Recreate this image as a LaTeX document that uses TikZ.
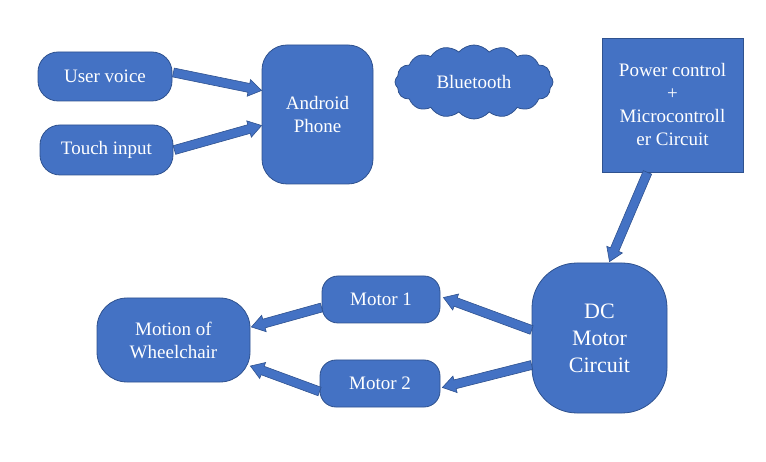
\documentclass[tikz,border=0pt]{standalone}
\usepackage{fontspec}
\setmainfont{Liberation Serif}
\usetikzlibrary{calc,shapes.symbols}

\definecolor{boxblue}{HTML}{4472C4}
\definecolor{boxedge}{HTML}{2F528F}

\tikzset{
    box/.style={fill=boxblue, draw=boxedge, line width=0.8pt, text=white,
        align=center, inner sep=0pt, font=\fontsize{19}{23}\selectfont},
    arrowbody/.style={fill=boxblue, draw=boxedge, line width=0.6pt}
}

% block arrow from #1 to #2
\newcommand{\blockarrow}[2]{%
  \path #1 coordinate (ba-s) #2 coordinate (ba-e);
  \draw[arrowbody] let \p1=($(ba-e)-(ba-s)$), \n1={atan2(\y1,\x1)},
        \n2={veclen(\x1,\y1)} in
    [shift={(ba-s)}, rotate=\n1] (0,-4.5) -- ({\n2-13},-4.5) -- ({\n2-13},-8.5)
        -- (\n2,0) -- ({\n2-13},8.5) -- ({\n2-13},4.5) -- (0,4.5) -- cycle;}

\begin{document}
\begin{tikzpicture}[x=1pt, y=-1pt]
\useasboundingbox (0,0) rectangle (766,462);

\node[box, rounded corners=20pt, minimum width=134pt, minimum height=49pt]
    (voice) at (105,76.5) {User voice};
\node[box, rounded corners=20pt, minimum width=133pt, minimum height=50pt]
    (touch) at (106.5,150) {Touch input};
\node[box, rounded corners=25pt, minimum width=111pt, minimum height=139pt]
    (phone) at (317.5,114.5) {Android\\Phone};
\node[box, cloud, cloud puffs=16, cloud puff arc=100, aspect=2.6,
    minimum width=158pt, minimum height=74pt] (bt) at (474,82) {Bluetooth};
\node[box, minimum width=141pt, minimum height=134pt]
    (power) at (672.5,105) {Power control\\+\\Microcontroll\\er Circuit};
\node[box, rounded corners=45pt, minimum width=135pt, minimum height=150pt,
    font=\fontsize{22}{27}\selectfont] (dc) at (599.5,338) {DC\\Motor\\Circuit};
\node[box, rounded corners=16pt, minimum width=118pt, minimum height=47pt]
    (motor1) at (381,299.5) {Motor 1};
\node[box, rounded corners=16pt, minimum width=120pt, minimum height=47pt]
    (motor2) at (380,383.5) {Motor 2};
\node[box, rounded corners=30pt, minimum width=153pt, minimum height=84pt]
    (motion) at (173.5,340) {Motion of\\Wheelchair};

\blockarrow{($(voice.east)+(1,-4)$)}{($(phone.west)+(0,-24)$)}
\blockarrow{($(touch.east)+(1,0)$)}{($(phone.west)+(0,11)$)}
\blockarrow{($(power.south)+(-25,0)$)}{($(dc.north)+(10,-1)$)}
\blockarrow{($(dc.west)+(0,-8)$)}{($(motor1.east)+(3,-2)$)}
\blockarrow{($(dc.west)+(0,27)$)}{($(motor2.east)+(2,4)$)}
\blockarrow{($(motor1.west)+(0,8)$)}{($(motion.east)+(1,-13)$)}
\blockarrow{($(motor2.west)+(0,8)$)}{($(motion.east)+(0,26)$)}
\end{tikzpicture}
\end{document}
